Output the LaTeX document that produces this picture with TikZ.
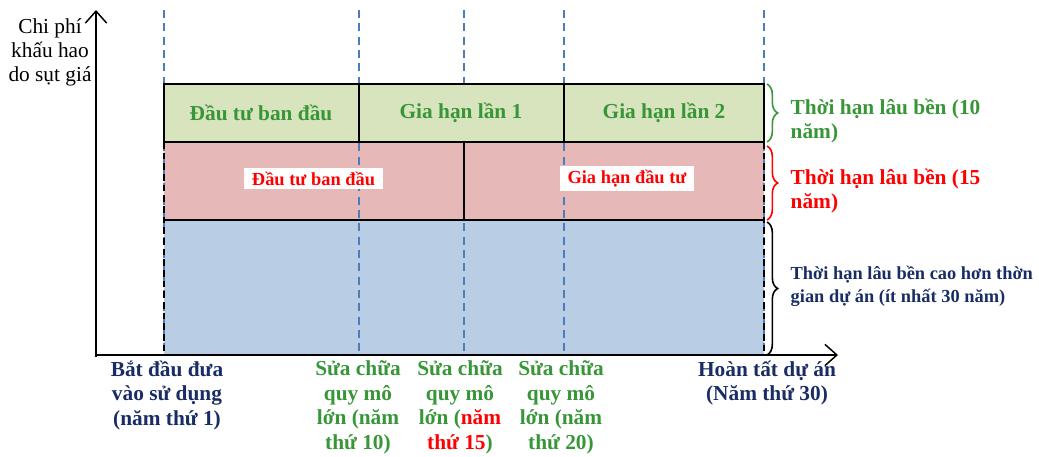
\documentclass[tikz,border=0pt]{standalone}
\usepackage{fontspec}
\setmainfont{Liberation Serif}
\usetikzlibrary{decorations.pathreplacing,arrows.meta}
\definecolor{gfill}{HTML}{D7E4BD}
\definecolor{rfill}{HTML}{E6B9B8}
\definecolor{bfill}{HTML}{B9CDE5}
\definecolor{gtext}{RGB}{56,150,56}
\definecolor{dblue}{RGB}{25,45,100}
\definecolor{dashblue}{HTML}{4A7EBB}
\tikzset{
  big/.style={font=\fontsize{16}{18.4}\selectfont\bfseries},
  gtxt/.style={big,text=gtext},
  lbl/.style={fill=white,text=red,font=\fontsize{13.8}{15}\selectfont\bfseries,inner xsep=6pt,inner ysep=2.8pt},
  guide/.style={dashblue,line width=1pt,dash pattern=on 6pt off 4pt},
  bdash/.style={black,line width=0.9pt,dash pattern=on 5pt off 3pt},
  cellline/.style={black,line width=1.1pt},
  brc/.style={decorate,decoration={brace,amplitude=8pt},line width=1.2pt},
  axis/.style={line width=1.1pt,-{Straight Barb[length=9pt,width=16pt,line width=1.1pt]}},
}
\begin{document}
\begin{tikzpicture}[x=0.75pt,y=-0.75pt]
\useasboundingbox (0,0) rectangle (1039,457);
% fills of lower rows
\fill[rfill] (164,142) rectangle (764,220);
\fill[bfill] (164,220) rectangle (764,355);
% guide lines
\foreach \x/\n in {164/a,359/b,464/c,564/d,764/e} {
  \coordinate (t\n) at (\x,10);
  \coordinate (b\n) at (\x,355);
  \draw[guide] (t\n) -- (b\n);
}
% green row
\fill[gfill] (164,84) rectangle (764,142);
\draw[cellline] (164,84) rectangle (764,142);
\draw[cellline] (359,84) -- (359,142);
\draw[cellline] (564,84) -- (564,142);
% red/blue borders
\draw[cellline] (164,220) -- (764,220);
\draw[cellline] (464,142) -- (464,220);
\draw[bdash] (164,142) -- (164,355);
\draw[bdash] (764,142) -- (764,355);
% axes
\coordinate (o) at (96,357);
\coordinate (ytop) at (96,10);
\coordinate (xend) at (838,355);
\draw[axis] (o) -- (ytop);
\draw[axis] (96,355) -- (xend);
% cell texts
\node[gtxt] (g1) at (261,113) {Đầu tư ban đầu};
\node[gtxt] (g2) at (461,113) {Gia hạn lần 1};
\node[gtxt] (g3) at (664,113) {Gia hạn lần 2};
\node[lbl] (r1) at (313.5,178.5) {Đầu tư ban đầu};
\node[lbl] (r2) at (627,178.5) {Gia hạn đầu tư};
% braces
\coordinate (br1a) at (767,84);  \coordinate (br1b) at (767,142);
\coordinate (br2a) at (767,146); \coordinate (br2b) at (767,220);
\coordinate (br3a) at (767,222); \coordinate (br3b) at (767,355);
\draw[brc,gtext] (br1a) -- (br1b);
\draw[brc,red] (br2a) -- (br2b);
\draw[brc,black] (br3a) -- (br3b);
\node[gtxt,anchor=west,align=left] (d1) at (786,121) {Thời hạn lâu bền (10\\năm)};
\node[big,text=red,anchor=west,align=left] (d2) at (786,191) {Thời hạn lâu bền (15\\năm)};
\node[text=dblue,font=\fontsize{13.8}{17.2}\selectfont\bfseries,anchor=west,align=left] (d3) at (786,286) {Thời hạn lâu bền cao hơn thờn\\gian dự án (ít nhất 30 năm)};
% y label
\node[font=\fontsize{16}{18}\selectfont,align=center] (ylab) at (50,52) {Chi phí\\khấu hao\\do sụt giá};
% bottom labels
\node[big,text=dblue,align=center,anchor=north] (x1) at (167,356) {Bắt đầu đưa\\vào sử dụng\\(năm thứ 1)};
\node[gtxt,align=center,anchor=north] (x2) at (358,356) {Sửa chữa\\quy mô\\lớn (năm\\thứ 10)};
\node[gtxt,align=center,anchor=north] (x3) at (460,356) {Sửa chữa\\quy mô\\lớn ({\color{red}năm}\\{\color{red}thứ 15})};
\node[gtxt,align=center,anchor=north] (x4) at (561,356) {Sửa chữa\\quy mô\\lớn (năm\\thứ 20)};
\node[big,text=dblue,align=center,anchor=north] (x5) at (767,356) {Hoàn tất dự án\\(Năm thứ 30)};
\end{tikzpicture}
\end{document}
